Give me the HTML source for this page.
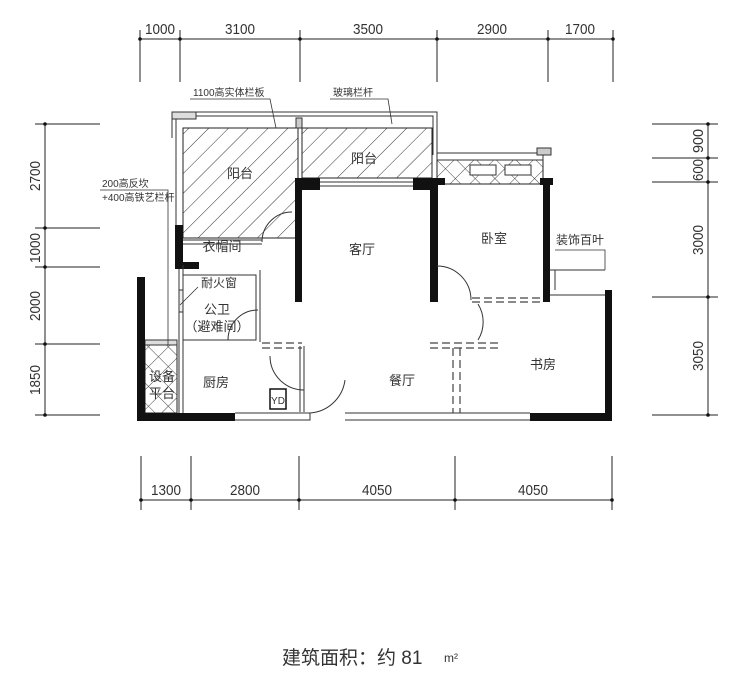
<!DOCTYPE html>
<html><head><meta charset="utf-8"><style>
html,body{margin:0;padding:0;background:#fff;}
svg{display:block;}
text{font-family:"Liberation Sans","Noto Sans CJK SC",sans-serif;fill:#333;}
</style></head><body>
<svg width="746" height="687" viewBox="0 0 746 687" xmlns="http://www.w3.org/2000/svg">
<defs>
<pattern id="hat" width="14" height="14" patternUnits="userSpaceOnUse" patternTransform="rotate(45)">
<line x1="0" y1="0" x2="0" y2="14" stroke="#333" stroke-width="1"/></pattern>
<pattern id="cross" width="14" height="14" patternUnits="userSpaceOnUse" patternTransform="rotate(45)">
<line x1="0" y1="0" x2="0" y2="14" stroke="#333" stroke-width="0.9"/><line x1="0" y1="0" x2="14" y2="0" stroke="#333" stroke-width="0.9"/></pattern>
</defs>
<g stroke="#222" stroke-width="1" fill="none">
<line x1="140" y1="39" x2="613" y2="39"/>
<line x1="140" y1="30" x2="140" y2="82"/><line x1="180" y1="30" x2="180" y2="82"/>
<line x1="300" y1="30" x2="300" y2="82"/><line x1="437" y1="30" x2="437" y2="82"/>
<line x1="548" y1="30" x2="548" y2="82"/><line x1="613" y1="30" x2="613" y2="82"/>
<line x1="45" y1="124" x2="45" y2="415"/>
<line x1="35" y1="124" x2="100" y2="124"/><line x1="35" y1="228" x2="100" y2="228"/>
<line x1="35" y1="267" x2="100" y2="267"/><line x1="35" y1="344" x2="100" y2="344"/>
<line x1="35" y1="415" x2="100" y2="415"/>
<line x1="708" y1="124" x2="708" y2="415"/>
<line x1="652" y1="124" x2="718" y2="124"/><line x1="652" y1="158" x2="718" y2="158"/>
<line x1="652" y1="182" x2="718" y2="182"/><line x1="652" y1="297" x2="718" y2="297"/>
<line x1="652" y1="415" x2="718" y2="415"/>
<line x1="141" y1="500" x2="612" y2="500"/>
<line x1="141" y1="456" x2="141" y2="510"/><line x1="191" y1="456" x2="191" y2="510"/>
<line x1="299" y1="456" x2="299" y2="510"/><line x1="455" y1="456" x2="455" y2="510"/>
<line x1="612" y1="456" x2="612" y2="510"/>
</g>
<g fill="#111">
<circle cx="140" cy="39" r="1.8"/><circle cx="180" cy="39" r="1.8"/><circle cx="300" cy="39" r="1.8"/><circle cx="437" cy="39" r="1.8"/><circle cx="548" cy="39" r="1.8"/><circle cx="613" cy="39" r="1.8"/>
<circle cx="45" cy="124" r="1.8"/><circle cx="45" cy="228" r="1.8"/><circle cx="45" cy="267" r="1.8"/><circle cx="45" cy="344" r="1.8"/><circle cx="45" cy="415" r="1.8"/>
<circle cx="708" cy="124" r="1.8"/><circle cx="708" cy="158" r="1.8"/><circle cx="708" cy="182" r="1.8"/><circle cx="708" cy="297" r="1.8"/><circle cx="708" cy="415" r="1.8"/>
<circle cx="141" cy="500" r="1.8"/><circle cx="191" cy="500" r="1.8"/><circle cx="299" cy="500" r="1.8"/><circle cx="455" cy="500" r="1.8"/><circle cx="612" cy="500" r="1.8"/>
</g>
<g font-size="15" text-anchor="middle" style="font-family:'DejaVu Sans Condensed','Liberation Sans Narrow','Liberation Sans',sans-serif" fill="#333">
<text x="160" y="34" textLength="30" lengthAdjust="spacingAndGlyphs">1000</text><text x="240" y="34" textLength="30" lengthAdjust="spacingAndGlyphs">3100</text><text x="368" y="34" textLength="30" lengthAdjust="spacingAndGlyphs">3500</text><text x="492" y="34" textLength="30" lengthAdjust="spacingAndGlyphs">2900</text><text x="580" y="34" textLength="30" lengthAdjust="spacingAndGlyphs">1700</text>
<text x="166" y="495" textLength="30" lengthAdjust="spacingAndGlyphs">1300</text><text x="245" y="495" textLength="30" lengthAdjust="spacingAndGlyphs">2800</text><text x="377" y="495" textLength="30" lengthAdjust="spacingAndGlyphs">4050</text><text x="533" y="495" textLength="30" lengthAdjust="spacingAndGlyphs">4050</text>
<text transform="translate(40,176) rotate(-90)" textLength="30" lengthAdjust="spacingAndGlyphs">2700</text>
<text transform="translate(40,248) rotate(-90)" textLength="30" lengthAdjust="spacingAndGlyphs">1000</text>
<text transform="translate(40,306) rotate(-90)" textLength="30" lengthAdjust="spacingAndGlyphs">2000</text>
<text transform="translate(40,380) rotate(-90)" textLength="30" lengthAdjust="spacingAndGlyphs">1850</text>
<text transform="translate(703,141) rotate(-90)" textLength="24" lengthAdjust="spacingAndGlyphs">900</text>
<text transform="translate(703,170) rotate(-90)" textLength="22" lengthAdjust="spacingAndGlyphs">600</text>
<text transform="translate(703,240) rotate(-90)" textLength="30" lengthAdjust="spacingAndGlyphs">3000</text>
<text transform="translate(703,356) rotate(-90)" textLength="30" lengthAdjust="spacingAndGlyphs">3050</text>
</g>
<rect x="183" y="128" width="115" height="110" fill="url(#hat)" stroke="#222"/>
<rect x="302" y="128" width="130" height="50" fill="url(#hat)" stroke="#222"/>
<path d="M172 112 H437 V155 M176 116 H433 V155 M172 112 V138 M176 116 V240" stroke="#333" fill="none"/>
<rect x="172" y="112" width="24" height="7" fill="#ddd" stroke="#333"/>
<rect x="296" y="118" width="6" height="10" fill="#ccc" stroke="#333"/>
<rect x="437" y="160" width="106" height="24" fill="url(#cross)" stroke="#222"/>
<rect x="437" y="153" width="106" height="7" fill="none" stroke="#333"/>
<rect x="470" y="165" width="26" height="10" fill="#fff" stroke="#333"/>
<rect x="505" y="165" width="26" height="10" fill="#fff" stroke="#333"/>
<rect x="537" y="148" width="14" height="7" fill="#ccc" stroke="#333"/>
<rect x="145" y="345" width="32" height="68" fill="url(#cross)" stroke="#222"/>
<rect x="145" y="340" width="32" height="5" fill="#ddd" stroke="#333"/>
<g fill="#111">
<rect x="137" y="277" width="8" height="144"/>
<rect x="137" y="413" width="98" height="8"/>
<rect x="175" y="225" width="8" height="40"/>
<rect x="175" y="262" width="24" height="7"/>
<rect x="295" y="178" width="7" height="124"/>
<rect x="295" y="178" width="25" height="12"/>
<rect x="413" y="178" width="25" height="12"/>
<rect x="430" y="178" width="8" height="124"/>
<rect x="430" y="178" width="15" height="7"/>
<rect x="543" y="178" width="7" height="124"/>
<rect x="540" y="178" width="13" height="7"/>
<rect x="605" y="290" width="7" height="131"/>
<rect x="530" y="413" width="82" height="8"/>
</g>
<g stroke="#333" stroke-width="1" fill="none">
<path d="M183 265 V413 M179 269 V413"/>
<path d="M183 275 H256 V340 H183"/>
<path d="M260 270 V342"/>
<path d="M235 413 H310 V420 H235 M345 413 H530 M345 420 H530"/>
<path d="M320 182 H413 M320 186 H413"/>
<path d="M183 240 H262 M183 244 H262"/>
<path d="M300 346 V412 M304 346 V412"/>
<path d="M550 270 H605 M550 295 H605 M555 270 V290"/>
<path d="M262 242 A 30 30 0 0 1 292 212"/>
<path d="M228 340 A 30 30 0 0 1 258 310"/>
<path d="M270 356 A 34 34 0 0 0 304 390"/>
<path d="M345 380 A 38 38 0 0 1 310 413"/>
<path d="M437 266 A 34 34 0 0 1 471 300"/>
<path d="M478 304 A 34 34 0 0 1 478 340"/>
<rect x="179" y="290" width="4" height="22" fill="#eee"/>
</g>
<g stroke="#444" stroke-width="1.2" stroke-dasharray="8 4" fill="none">
<path d="M262 343 H302 M262 348 H302"/>
<path d="M430 343 H500 M430 348 H500"/>
<path d="M453 348 V413 M460 348 V413"/>
<path d="M472 298 H543 M472 302 H543"/>
</g>
<rect x="270" y="389" width="16" height="20" fill="none" stroke="#111" stroke-width="1.5"/>
<text x="278" y="404" font-size="10" text-anchor="middle">YD</text>
<g stroke="#333" fill="none" stroke-width="0.8">
<path d="M190 99 H270 L276 128"/><path d="M330 99 H388 L392 124"/>
<path d="M100 190 H168 V345"/>
<path d="M198 287 L180 305"/><path d="M555 250 H605 V270"/>
</g>
<g font-size="10" text-anchor="start">
<text x="193" y="96">1100高实体栏板</text>
<text x="333" y="96">玻璃栏杆</text>
<text x="102" y="187">200高反坎</text>
<text x="102" y="201">+400高铁艺栏杆</text>
</g>
<g font-size="13" text-anchor="middle">
<text x="240" y="178">阳台</text>
<text x="364" y="163">阳台</text>
<text x="222" y="251">衣帽间</text>
<text x="362" y="254">客厅</text>
<text x="494" y="243">卧室</text>
<text x="580" y="244" font-size="12">装饰百叶</text>
<text x="219" y="287" font-size="12">耐火窗</text>
<text x="217" y="314">公卫</text>
<text x="217" y="331">（避难间）</text>
<text x="216" y="387">厨房</text>
<text x="402" y="385">餐厅</text>
<text x="543" y="369">书房</text>
<text x="162" y="381">设备</text>
<text x="162" y="398">平台</text>
</g>
<text x="282" y="664" font-size="19" text-anchor="start">建筑面积：约 81</text>
<text x="444" y="662" font-size="12">m²</text>
</svg>
</body></html>
